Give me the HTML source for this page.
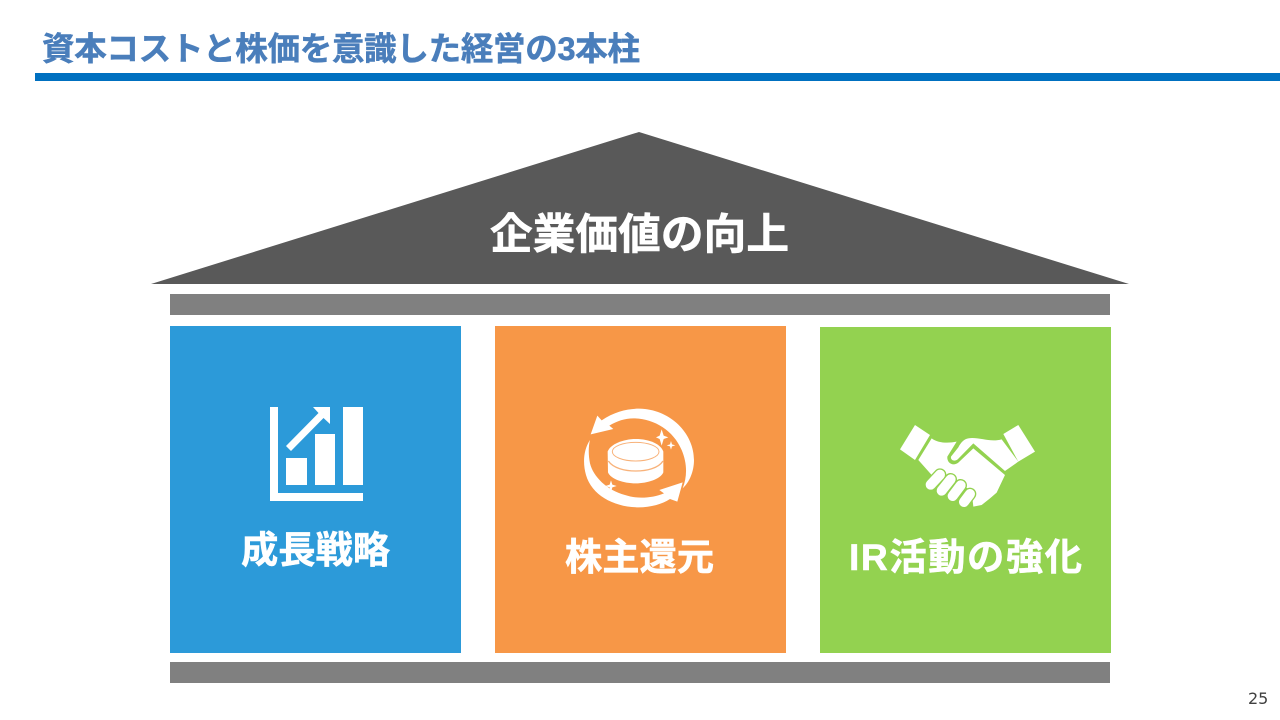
<!DOCTYPE html>
<html lang="ja">
<head>
<meta charset="utf-8">
<style>
html,body{margin:0;padding:0;background:#fff}
svg{display:block}
text{font-family:"Liberation Sans","Noto Sans CJK JP",sans-serif;font-weight:700}
</style>
</head>
<body>
<svg width="1280" height="720" viewBox="0 0 1280 720" xmlns="http://www.w3.org/2000/svg">
<rect width="1280" height="720" fill="#fff"/>
<text x="42" y="60" font-size="32.5" fill="#4A7EBB" stroke="#4A7EBB" stroke-width=".5" textLength="598" lengthAdjust="spacing">資本コストと株価を意識した経営の3本柱</text>
<rect x="35" y="73" width="1245" height="8" fill="#0070C0"/>

<polygon points="639,132 1129,284 151,284" fill="#595959"/>
<text x="490" y="249" font-size="42.67" fill="#fff" stroke="#fff" stroke-width=".6" textLength="299" lengthAdjust="spacing">企業価値の向上</text>
<rect x="170" y="294" width="940" height="21" fill="#808080"/>
<rect x="170" y="662" width="940" height="21" fill="#808080"/>

<rect x="170" y="326" width="291" height="327" fill="#2C9AD9"/>
<rect x="495" y="326" width="291" height="327" fill="#F79747"/>
<rect x="820" y="327" width="291" height="326" fill="#93D250"/>

<!-- chart icon -->
<g fill="#fff">
<path d="M270 407h8v86h85v8h-93z"/>
<rect x="286" y="458" width="21" height="27"/>
<rect x="315" y="434" width="20" height="51"/>
<rect x="343" y="407" width="20" height="78"/>
<polygon points="313,407 330,407 330,424 323.500,418 291,451 286,446 318.500,413"/>
</g>

<!-- coin icon -->
<g transform="translate(570 395) scale(.3333)" fill="#fff">
<path d="M62 118 L82 62 L95 76 C140 45 190 38 225 42 C310 52 372 120 372 195 C372 230 358 262 338 280 C352 245 352 205 335 165 C310 105 250 70 190 70 C165 70 140 78 118 92 L130 102Z"/>
<path d="M60 135 C40 165 38 205 48 240 C65 300 130 335 200 337 C240 338 275 328 300 312 L322 320 L338 262 L268 285 L282 295 C245 310 200 312 165 300 C110 285 70 245 60 205 C55 180 55 155 60 135Z"/>
<path d="M113 170 C120 148 160 132 197 132 C240 132 273 148 280 170 L280 232 C272 252 232 265 197 265 C160 265 122 252 114 232Z"/>
<path d="M275 103 L281 122 L295 127 L281 132 L275 152 L269 132 L258 127 L269 122Z"/>
<path d="M303 138 L306 148 L316 151 L306 154 L303 164 L300 154 L290 151 L300 148Z"/>
<path d="M123 256 L127 269 L140 273 L127 277 L123 291 L119 277 L106 273 L119 269Z"/>
</g>
<g transform="translate(570 395) scale(.3333)" fill="none" stroke="#F8B27A" stroke-width="3">
<ellipse cx="197" cy="170" rx="70" ry="28"/>
<path d="M115 198 C130 220 165 228 197 228 C230 228 265 220 279 198" stroke-width="4"/>
</g>

<!-- handshake icon -->
<g transform="translate(890 410) scale(.3333)">
<path fill="#fff" d="M75 45 L120 75 L75 150 L30 118Z"/>
<path fill="#fff" d="M385 45 L340 72 L385 155 L435 125Z"/>
<path fill="#fff" d="M125 85 L85 150 L125 195 L175 195 L215 222 L245 245 L250 290 L275 285 L300 265 L320 248 L345 195 L250 115 L205 158 C190 170 170 160 172 140 L200 95 C175 100 145 100 125 85Z"/>
<path fill="#fff" d="M205 112 L183 140 C181 152 195 155 203 148 L250 100 L345 183 L385 155 L335 88 C300 98 265 80 235 85 C222 87 212 98 205 112Z"/>
<g fill="none" stroke="#93D250" stroke-width="38" stroke-linecap="round">
<path d="M122 224 L150 194"/>
<path d="M155 242 L182 208"/>
<path d="M188 258 L212 226"/>
<path d="M222 276 L240 252"/>
</g>
<g fill="none" stroke="#fff" stroke-width="30" stroke-linecap="round">
<path d="M122 224 L150 194"/>
<path d="M155 242 L182 208"/>
<path d="M188 258 L212 226"/>
<path d="M222 276 L240 252"/>
</g>
</g>

<text x="241" y="563" font-size="37.3" fill="#fff" stroke="#fff" stroke-width=".5" textLength="149" lengthAdjust="spacing">成長戦略</text>
<text x="565" y="570" font-size="37.3" fill="#fff" stroke="#fff" stroke-width=".5" textLength="149" lengthAdjust="spacing">株主還元</text>
<text x="849" y="570" font-size="37.3" fill="#fff" stroke="#fff" stroke-width=".5" textLength="233" lengthAdjust="spacing">IR活動の強化</text>

<text x="1248" y="704" font-size="16" fill="#404040" style="font-weight:400;font-family:'DejaVu Sans',sans-serif">25</text>
</svg>
</body>
</html>
